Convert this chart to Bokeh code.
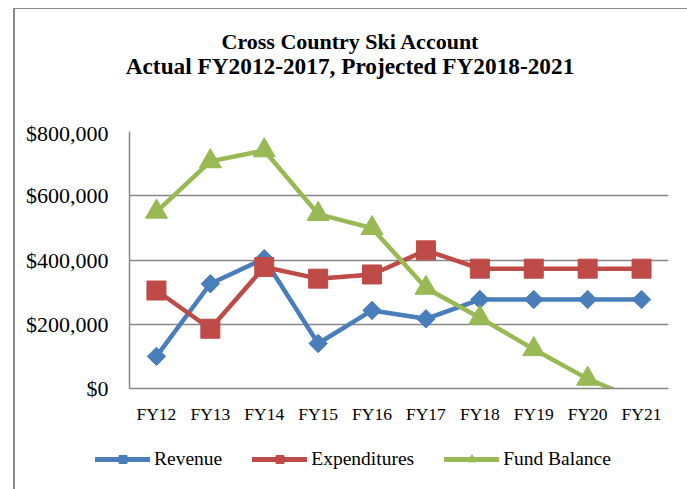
from bokeh.plotting import figure
from bokeh.models import Range1d, FixedTicker, Legend, LegendItem, Div
from bokeh.layouts import column, row
from bokeh.embed import file_html
from bokeh.resources import INLINE

# ---- data ----
categories = ["FY12", "FY13", "FY14", "FY15", "FY16", "FY17", "FY18", "FY19", "FY20", "FY21"]
revenue = [100000, 326000, 404000, 140000, 243000, 217000, 277000, 277000, 277000, 277000]
expenditures = [305000, 186000, 378000, 342000, 355000, 430000, 373000, 373000, 373000, 373000]
fund_balance = [550000, 707000, 741000, 543000, 499000, 313000, 220000, 122000, 30000, -40000]
y_ticks = [0, 200000, 400000, 600000, 800000]
y_tick_labels = ["$0", "$200,000", "$400,000", "$600,000", "$800,000"]
title_lines = ["Cross Country Ski Account", "Actual FY2012-2017, Projected FY2018-2021"]
series_names = ["Revenue", "Expenditures", "Fund Balance"]

xs = [i + 0.5 for i in range(len(categories))]

BLUE = "#4A7EBB"
RED = "#BE4B48"
GREEN = "#98B954"
GRID = "#868686"
SERIF = "Liberation Serif"
W = 670

# ---- title strip ----
line_style = ("height:25px; line-height:25px; white-space:nowrap; text-align:center; "
              "font-family:'Liberation Serif'; font-weight:bold; color:black; ")
title_html = ('<div style="padding-top:15px; width:660px;">'
              '<div style="' + line_style + 'font-size:22px;">' + title_lines[0] + '</div>'
              '<div style="' + line_style + 'font-size:23.3px;">' + title_lines[1] + '</div>'
              '</div>')
title = Div(text=title_html, width=W, height=101)

# ---- main chart ----
p = figure(width=W, height=308, output_backend="svg", toolbar_location=None,
           x_range=Range1d(0, len(categories)), y_range=Range1d(0, 800000),
           min_border_left=114, min_border_right=17, min_border_top=11, min_border_bottom=40)
p.outline_line_color = None
p.xaxis.ticker = FixedTicker(ticks=xs)
p.xaxis.major_label_overrides = {x: c for x, c in zip(xs, categories)}
p.yaxis.ticker = FixedTicker(ticks=y_ticks)
p.yaxis.major_label_overrides = {t: l for t, l in zip(y_ticks, y_tick_labels)}
for ax in (p.xaxis, p.yaxis):
    ax.major_tick_line_color = None
    ax.minor_tick_line_color = None
    ax.axis_line_color = GRID
    ax.axis_line_width = 1.5
    ax.major_label_text_font = SERIF
    ax.major_label_text_color = "black"
p.xaxis.major_label_text_font_size = "17.5px"
p.yaxis.major_label_text_font_size = "22px"
p.xaxis.major_label_standoff = 9
p.yaxis.major_label_standoff = 15
p.xgrid.grid_line_color = None
p.ygrid.ticker = FixedTicker(ticks=y_ticks)
p.ygrid.grid_line_color = GRID
p.ygrid.grid_line_width = 1.5

styles = [(BLUE, "square", 13, 0.7854, revenue),
          (RED, "square", 19, 0.0, expenditures),
          (GREEN, "triangle", 22, 0.0, fund_balance)]
for col, mk, sz, ang, vals in styles:
    p.line(xs, vals, line_color=col, line_width=4.5, line_join="round", line_cap="round")
    p.scatter(xs, vals, marker=mk, size=sz, angle=ang, fill_color=col, line_color=col)

# ---- legend strip (series drawn off-view, only their legend swatches show) ----
pl = figure(width=W, height=61, output_backend="svg", toolbar_location=None,
            x_range=Range1d(0, 1), y_range=Range1d(0, 1),
            x_axis_type=None, y_axis_type=None,
            min_border=0, min_border_left=0, min_border_right=0,
            min_border_top=0, min_border_bottom=0)
pl.outline_line_color = None
pl.xgrid.grid_line_color = None
pl.ygrid.grid_line_color = None
swatches = []
for (col, mk, sz, ang, vals), lsz in zip(styles, [9, 11, 11]):
    ln = pl.line(xs, vals, line_color=col, line_width=5, line_cap="round")
    sc = pl.scatter(xs, vals, marker=mk, size=lsz, angle=ang, fill_color=col, line_color=col)
    swatches.append([ln, sc])
legend = Legend(items=[LegendItem(label=n, renderers=r) for n, r in zip(series_names, swatches)],
                orientation="horizontal", location=(80, 19), padding=0, margin=0,
                glyph_width=55, glyph_height=20, label_height=20, label_standoff=4, spacing=30,
                border_line_color=None, background_fill_alpha=0,
                label_text_font=SERIF, label_text_font_size="19.5px", label_text_color="black")
pl.add_layout(legend, "center")

layout = column(title, p, row(pl), spacing=0)
layout.styles = {"margin-left": "13px", "margin-top": "8px", "border-left": "2px solid #898989",
                 "border-right": "2px solid #898989", "border-top": "1px solid #898989"}

open("out.html", "w").write(file_html(layout, INLINE))
